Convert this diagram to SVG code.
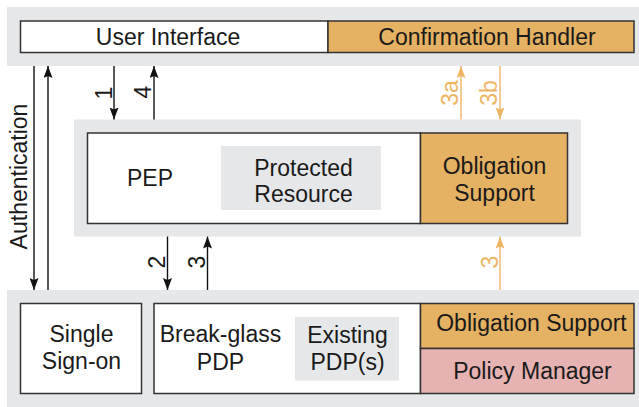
<svg xmlns="http://www.w3.org/2000/svg" width="639" height="407" viewBox="0 0 639 407">
<style>
.band{fill:#E6E7E9;stroke:none}
.box{stroke:#333;stroke-width:1.5}
.w{fill:#fff}
.o{fill:#E5B163}
.p{fill:#E6B2B2}
.g{fill:#E6E7E9;stroke:none}
text{font-family:"Liberation Sans",Arial,sans-serif;font-size:23px;fill:#1a1a1a;text-anchor:middle}
.ol{fill:#ECB665}
.k{stroke:#111;stroke-width:1.4;fill:none}
.ko{stroke:#ECB665;stroke-width:1.4;fill:none}
</style>
<defs>
<marker id="ah" viewBox="0 0 12 9" refX="12" refY="4.5" markerWidth="12" markerHeight="9" markerUnits="userSpaceOnUse" orient="auto">
<path d="M0,0 L12,4.5 L0,9 L2,4.5 z" fill="#111"/>
</marker>
<marker id="aho" viewBox="0 0 12 9" refX="12" refY="4.5" markerWidth="12" markerHeight="9" markerUnits="userSpaceOnUse" orient="auto">
<path d="M0,0 L12,4.5 L0,9 L2,4.5 z" fill="#ECB665"/>
</marker>
</defs>

<g id="top-layer">
<rect class="band" x="7" y="7" width="632" height="59"/>
<g id="user-interface">
<rect class="box w" x="20.5" y="21" width="307.5" height="31.5"/>
<text x="168" y="45">User Interface</text>
</g>
<g id="confirmation-handler">
<rect class="box o" x="328" y="21" width="306" height="31.5"/>
<text x="487" y="45">Confirmation Handler</text>
</g>
</g>

<g id="pep-layer">
<rect class="band" x="74" y="119.5" width="507" height="117"/>
<g id="pep">
<rect class="box w" x="87.5" y="133" width="333" height="90.5"/>
<text x="150" y="186">PEP</text>
</g>
<g id="protected-resource">
<rect class="g" x="221" y="146" width="160" height="64"/>
<text x="303.5" y="175.5">Protected</text>
<text x="303.5" y="202">Resource</text>
</g>
<g id="obligation-support-pep">
<rect class="box o" x="420.5" y="133" width="147" height="90.5"/>
<text x="494.5" y="174">Obligation</text>
<text x="494.5" y="200.5">Support</text>
</g>
</g>

<g id="bottom-layer">
<rect class="band" x="7" y="290" width="632" height="117"/>
<g id="single-sign-on">
<rect class="box w" x="20.5" y="303.5" width="121" height="90"/>
<text x="81.5" y="342">Single</text>
<text x="81.5" y="368.5">Sign-on</text>
</g>
<g id="break-glass-pdp">
<rect class="box w" x="154" y="303.5" width="266.5" height="90"/>
<text x="220.5" y="342">Break-glass</text>
<text x="220.5" y="370">PDP</text>
</g>
<g id="existing-pdps">
<rect class="g" x="295" y="317" width="104" height="63.5"/>
<text x="347.5" y="342.5">Existing</text>
<text x="347.5" y="370">PDP(s)</text>
</g>
<g id="obligation-support-pdp">
<rect class="box o" x="420.5" y="303.5" width="213.5" height="45"/>
<text x="531.5" y="331">Obligation Support</text>
</g>
<g id="policy-manager">
<rect class="box p" x="420.5" y="348.5" width="213.5" height="45"/>
<text x="532.5" y="378.5">Policy Manager</text>
</g>
</g>

<g id="connectors">
<line class="k" x1="34" y1="66" x2="34" y2="290" marker-end="url(#ah)"/>
<line class="k" x1="48" y1="290" x2="48" y2="66" marker-end="url(#ah)"/>
<line class="k" x1="114" y1="66" x2="114" y2="119.5" marker-end="url(#ah)"/>
<line class="k" x1="154" y1="119.5" x2="154" y2="66" marker-end="url(#ah)"/>
<line class="ko" x1="461" y1="119.5" x2="461" y2="66" marker-end="url(#aho)"/>
<line class="ko" x1="500" y1="66" x2="500" y2="119.5" marker-end="url(#aho)"/>
<line class="k" x1="167.5" y1="236.5" x2="167.5" y2="290" marker-end="url(#ah)"/>
<line class="k" x1="207.5" y1="290" x2="207.5" y2="236.5" marker-end="url(#ah)"/>
<line class="ko" x1="500" y1="290" x2="500" y2="236.5" marker-end="url(#aho)"/>
<text transform="translate(26.5,176.5) rotate(-90)">Authentication</text>
<text transform="translate(111.5,93) rotate(-90)">1</text>
<text transform="translate(151,92) rotate(-90)">4</text>
<text class="ol" transform="translate(458,93) rotate(-90)">3a</text>
<text class="ol" transform="translate(497,93) rotate(-90)">3b</text>
<text transform="translate(164.5,262) rotate(-90)">2</text>
<text transform="translate(205,262) rotate(-90)">3</text>
<text class="ol" transform="translate(498,262) rotate(-90)">3</text>
</g>
</svg>
